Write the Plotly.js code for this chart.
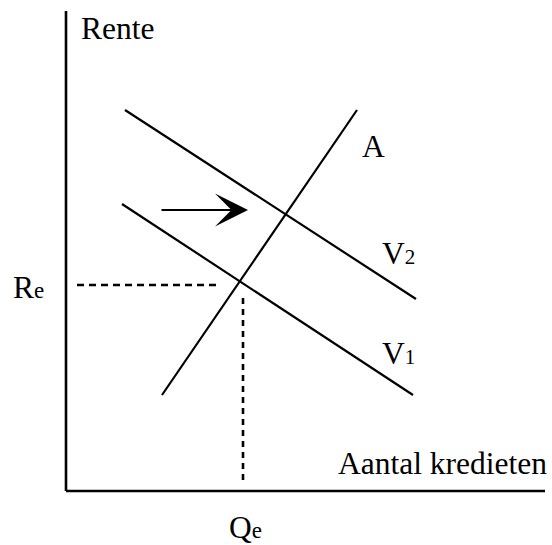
<!DOCTYPE html>
<html>
<head>
<meta charset="utf-8">
<script src="https://cdn.plot.ly/plotly-3.0.1.min.js"></script>
<style>html,body{margin:0;padding:0;background:#fff;}#chart{width:552px;height:545px;}</style>
</head>
<body>
<div id="chart"></div>
<script>
// Axis extents (diagram units)
const yAxisX = [0, 0];
const yAxisY = [480, 0];
const xAxisX = [0, 479];
const xAxisY = [0, 0];

// Aanbod (A)
const aX = [96, 291];
const aY = [96, 381];
// Vraag V1
const v1X = [56, 347];
const v1Y = [287, 96];
// Vraag V2
const v2X = [59, 350];
const v2Y = [381, 192];

// Equilibrium guide lines
const reLevel = 206;
const qeLevel = 177;
const reLineX = [11, 155];
const qeLineY = [193, 8];

// Shift arrow
const arrowFromX = 94, arrowToX = 182, arrowY = 281;

const labels = {
  rente: 'Rente',
  aantal: 'Aantal kredieten',
  A: 'A',
  V1: 'V<span style="font-size:21px">1</span>',
  V2: 'V<span style="font-size:21px">2</span>',
  Re: 'R<span style="font-size:23px">e</span>',
  Qe: 'Q<span style="font-size:23px">e</span>'
};

const black = '#000';
const traces = [
  {x: yAxisX, y: yAxisY, mode: 'lines', line: {color: black, width: 2.6}},
  {x: xAxisX, y: xAxisY, mode: 'lines', line: {color: black, width: 2.6}},
  {x: aX, y: aY, mode: 'lines', line: {color: black, width: 2.2}},
  {x: v1X, y: v1Y, mode: 'lines', line: {color: black, width: 2.2}},
  {x: v2X, y: v2Y, mode: 'lines', line: {color: black, width: 2.2}},
  {x: reLineX, y: [reLevel, reLevel], mode: 'lines', line: {color: black, width: 2.4, dash: '7px,5px'}},
  {x: [qeLevel, qeLevel], y: qeLineY, mode: 'lines', line: {color: black, width: 2.6, dash: '6px,5px'}}
];

const font = {family: '"Liberation Serif", "Times New Roman", serif', size: 31.5, color: black};
function lab(text, x, y, xanchor) {
  return {text: text, x: x, y: y, xref: 'x', yref: 'y', xanchor: xanchor || 'left', yanchor: 'middle', showarrow: false, font: font};
}

const annotations = [
  lab(labels.rente, 13, 463),
  lab(labels.A, 294, 345),
  lab(labels.V2, 314, 238),
  lab(labels.V1, 314, 138),
  lab(labels.Re, -20, 204, 'right'),
  lab(labels.Qe, 161, -36),
  lab(labels.aantal, 270, 28),
  {x: arrowToX, y: arrowY, ax: arrowFromX, ay: arrowY, xref: 'x', yref: 'y', axref: 'x', ayref: 'y',
   showarrow: true, arrowhead: 3, arrowwidth: 2.2, arrowsize: 2.5, arrowcolor: black, text: ''}
];

const layout = {
  width: 552, height: 545,
  margin: {l: 0, r: 0, t: 0, b: 0},
  paper_bgcolor: '#fff', plot_bgcolor: '#fff',
  showlegend: false,
  xaxis: {range: [-66, 486], visible: false, fixedrange: true},
  yaxis: {range: [-54, 491], visible: false, fixedrange: true},
  annotations: annotations
};

Plotly.newPlot('chart', traces, layout, {displayModeBar: false, staticPlot: true});
</script>
</body>
</html>
